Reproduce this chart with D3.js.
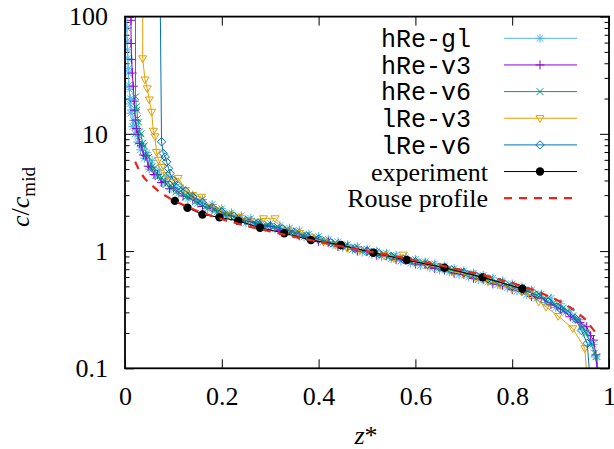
<!DOCTYPE html>
<html>
<head>
<meta charset="utf-8">
<script src="https://cdn.jsdelivr.net/npm/d3@7"></script>
<style>
body { margin: 0; background: #fff; }
svg { display: block; }
text { font-family: "Liberation Serif", "Times New Roman", serif; }
text.mono { font-family: "Liberation Mono", "Courier New", monospace; }
</style>
</head>
<body>
<svg id="chart" width="614" height="449"></svg>
<script>

// data: [z*, c/c_mid]
var hReGl = [
  [0.003,160],[0.004,80],[0.0045,62],[0.005,52],[0.006,44],[0.0065,36],[0.007,33],[0.008,26],
  [0.009,24],[0.010,18],[0.011,20],[0.012,15],[0.014,16],[0.016,11.5],[0.018,13],[0.021,10],
  [0.023,11.5],[0.026,8.5],[0.029,9.6],[0.032,7.3],[0.036,8.2],[0.040,6.2],[0.045,6.9],[0.050,5.0],
  [0.056,5.9],[0.063,4.4],[0.070,4.9],[0.078,3.8],[0.086,4.3],[0.095,3.4],[0.103,3.7],
  [0.11,3.1],[0.12,3.4],[0.13,2.8],[0.14,3.0],[0.15,2.55],[0.16,2.75],[0.17,2.3],[0.18,2.5],
  [0.19,2.15],[0.20,2.3],[0.21,1.97],[0.22,2.12],[0.23,1.86],[0.24,2.0],[0.25,1.74],[0.26,1.9],
  [0.27,1.68],[0.28,1.8],[0.29,1.6],[0.30,1.72],[0.31,1.55],[0.32,1.65],[0.33,1.46],[0.34,1.57],
  [0.35,1.40],[0.36,1.50],[0.37,1.32],[0.38,1.40],[0.39,1.26],[0.40,1.33],[0.41,1.2],[0.42,1.26],
  [0.43,1.14],[0.44,1.2],[0.45,1.08],[0.46,1.14],[0.47,1.03],[0.48,1.09],[0.49,0.98],[0.50,1.04],
  [0.51,0.94],[0.52,1.0],[0.53,0.9],[0.54,0.96],[0.55,0.86],[0.56,0.92],[0.57,0.82],[0.58,0.88],
  [0.59,0.79],[0.60,0.85],[0.61,0.75],[0.62,0.81],[0.63,0.72],[0.64,0.78],[0.65,0.69],[0.66,0.745],
  [0.67,0.66],[0.68,0.71],[0.69,0.63],[0.70,0.68],[0.71,0.60],[0.72,0.65],[0.73,0.57],[0.74,0.62],
  [0.75,0.545],[0.76,0.59],[0.77,0.515],[0.78,0.555],[0.79,0.485],[0.80,0.525],[0.81,0.455],[0.82,0.495],
  [0.83,0.425],[0.84,0.465],[0.85,0.395],[0.86,0.43],[0.87,0.365],[0.88,0.395],[0.89,0.33],[0.90,0.355],
  [0.91,0.30],[0.92,0.31],[0.93,0.26],[0.94,0.26],[0.945,0.22],[0.955,0.2],[0.962,0.165],[0.967,0.16],
  [0.972,0.125],[0.978,0.08]
];

var hReV3 = [
  [0.012,200],[0.0124,93],[0.0126,59],[0.0138,43],[0.015,33],[0.017,25.5],[0.019,19],[0.020,15.9],
  [0.022,13.1],[0.024,11.1],[0.027,9.9],[0.030,8.3],[0.034,7.9],[0.038,6.6],[0.043,6.5],[0.048,5.3],
  [0.054,5.2],[0.060,4.5],[0.067,4.5],[0.075,3.85],[0.083,3.9],[0.092,3.4],
  [0.10,3.45],[0.12,2.95],[0.14,2.78],[0.16,2.4],[0.18,2.32],[0.20,2.04],[0.22,2.0],[0.24,1.8],
  [0.26,1.79],[0.28,1.64],[0.30,1.63],[0.32,1.5],[0.34,1.49],[0.36,1.35],[0.38,1.31],[0.40,1.21],
  [0.42,1.19],[0.44,1.09],[0.46,1.08],[0.48,1.0],[0.50,0.99],[0.52,0.92],[0.54,0.91],[0.56,0.845],
  [0.58,0.835],[0.60,0.775],[0.62,0.765],[0.64,0.71],[0.66,0.69],[0.68,0.645],[0.70,0.63],[0.72,0.585],
  [0.74,0.57],[0.76,0.525],[0.78,0.51],[0.80,0.468],[0.82,0.455],[0.84,0.41],[0.86,0.395],[0.88,0.35],
  [0.90,0.32],[0.92,0.275],[0.94,0.245],[0.954,0.226],[0.962,0.19],[0.968,0.174],[0.973,0.13],[0.977,0.08]
];

var hReV6 = [
  [0.0215,300],[0.0218,20.7],[0.0235,17],[0.0245,15.9],[0.026,13.5],[0.028,12.6],[0.030,10.4],[0.033,10.0],
  [0.036,8.3],[0.040,7.9],[0.044,6.6],[0.049,6.3],[0.055,5.2],[0.061,5.1],[0.068,4.3],[0.076,4.25],
  [0.085,3.7],[0.095,3.6],
  [0.105,3.2],[0.115,3.25],[0.125,2.88],[0.135,2.95],[0.145,2.62],[0.155,2.66],[0.165,2.36],[0.175,2.42],
  [0.185,2.2],[0.195,2.25],[0.205,2.04],[0.215,2.09],[0.225,1.93],[0.235,1.97],[0.245,1.82],[0.255,1.86],
  [0.265,1.74],[0.275,1.77],[0.285,1.66],[0.295,1.69],[0.305,1.6],[0.315,1.62],[0.325,1.52],[0.335,1.54],
  [0.345,1.45],[0.355,1.46],[0.365,1.37],[0.375,1.37],[0.385,1.29],[0.395,1.3],[0.405,1.23],[0.415,1.24],
  [0.425,1.17],[0.435,1.18],[0.445,1.11],[0.455,1.12],[0.465,1.06],[0.475,1.07],[0.485,1.02],[0.495,1.03],
  [0.505,0.98],[0.515,0.99],[0.525,0.94],[0.535,0.95],[0.545,0.9],[0.555,0.91],[0.565,0.86],[0.575,0.875],
  [0.585,0.83],[0.595,0.84],[0.605,0.795],[0.615,0.805],[0.625,0.765],[0.635,0.77],[0.645,0.725],[0.655,0.735],
  [0.665,0.695],[0.675,0.70],[0.685,0.665],[0.695,0.67],[0.705,0.635],[0.715,0.64],[0.725,0.605],[0.735,0.61],
  [0.745,0.575],[0.755,0.58],[0.765,0.545],[0.775,0.55],[0.785,0.515],[0.795,0.52],[0.805,0.485],[0.815,0.49],
  [0.825,0.455],[0.835,0.46],[0.845,0.425],[0.855,0.43],[0.865,0.395],[0.875,0.4],[0.885,0.36],[0.895,0.355],
  [0.905,0.325],[0.915,0.31],[0.925,0.28],[0.935,0.265],[0.945,0.225],[0.952,0.2],[0.962,0.165],[0.97,0.135],
  [0.975,0.126],[0.978,0.085]
];

var lReV3 = [
  [0.037,300],[0.0365,44],[0.0413,29],[0.046,24.4],[0.050,19.6],[0.055,15.4],[0.0585,10.6],[0.062,9.5],
  [0.065,7.0],[0.069,6.0],[0.076,5.2],[0.086,4.44],[0.098,4.0],[0.110,4.2],[0.125,3.3],[0.14,3.0],
  [0.158,2.9],[0.176,2.38],[0.195,2.25],[0.215,2.05],[0.235,1.95],[0.255,1.82],[0.286,1.9],[0.31,1.9],
  [0.335,1.5],[0.36,1.42],[0.385,1.3],[0.41,1.2],[0.435,1.13],[0.46,1.06],[0.485,1.02],[0.51,0.98],
  [0.535,0.92],[0.555,0.87],[0.575,0.93],[0.6,0.8],[0.625,0.76],[0.65,0.72],[0.675,0.67],[0.7,0.635],
  [0.725,0.59],[0.75,0.555],[0.775,0.515],[0.8,0.48],[0.82,0.45],[0.837,0.42],[0.855,0.37],[0.87,0.335],
  [0.895,0.279],[0.925,0.219],[0.95,0.148],[0.955,0.08]
];

var lReV6 = [
  [0.072,300],[0.0755,8.55],[0.079,6.81],[0.083,6.35],[0.086,5.77],[0.090,5.07],[0.093,4.6],[0.10,4.02],
  [0.11,3.6],[0.125,3.25],[0.14,2.9],[0.16,2.6],[0.18,2.35],[0.20,2.15],[0.225,1.98],[0.25,1.82],
  [0.275,1.72],[0.30,1.63],[0.325,1.55],[0.35,1.45],[0.375,1.34],[0.40,1.26],[0.425,1.18],[0.45,1.11],
  [0.475,1.05],[0.50,1.0],[0.525,0.95],[0.55,0.9],[0.575,0.85],[0.60,0.81],[0.625,0.77],[0.65,0.73],
  [0.675,0.69],[0.70,0.655],[0.725,0.615],[0.75,0.58],[0.775,0.54],[0.80,0.5],[0.825,0.465],[0.85,0.42],
  [0.875,0.37],[0.90,0.32],[0.93,0.267],[0.943,0.21],[0.955,0.163],[0.961,0.08]
];

var experiment = [
  [0.103,2.68],[0.129,2.34],[0.160,2.05],[0.195,1.94],[0.234,1.81],[0.279,1.58],[0.329,1.42],
  [0.384,1.24],[0.446,1.125],[0.513,0.967],[0.582,0.838],[0.660,0.721],[0.739,0.597],[0.821,0.477]
];

var rouse = [
  [0.021,5.77],[0.03,4.81],[0.04,4.2],[0.05,3.78],[0.075,3.11],[0.1,2.70],[0.15,2.19],[0.2,1.87],
  [0.25,1.64],[0.3,1.47],[0.35,1.32],[0.4,1.20],[0.45,1.09],[0.5,1.0],[0.55,0.915],[0.6,0.833],
  [0.65,0.757],[0.7,0.682],[0.75,0.609],[0.8,0.535],[0.85,0.457],[0.9,0.370],[0.93,0.311],
  [0.95,0.264],[0.971,0.205]
];

var seriesNames = ["hRe-gl", "hRe-v3", "hRe-v6", "lRe-v3", "lRe-v6", "experiment", "Rouse profile"];
var seriesColors = ["#56b4e9", "#9400d3", "#009e73", "#e69f00", "#0072b2", "#000000", "#e8251c"];
var seriesMarks = ["asterisk", "plus", "cross", "triDown", "diamond", "dot", null];
var seriesData = [hReGl, hReV3, hReV6, lReV3, lReV6, experiment, rouse];

var xTicks = [0, 0.2, 0.4, 0.6, 0.8, 1];
var xTickLabels = ["0", "0.2", "0.4", "0.6", "0.8", "1"];
var yTicks = [0.1, 1, 10, 100];
var yTickLabels = ["0.1", "1", "10", "100"];
var yMinor = [0.2,0.3,0.4,0.5,0.6,0.7,0.8,0.9, 2,3,4,5,6,7,8,9, 20,30,40,50,60,70,80,90];

// plot frame
var plot = { left: 125, right: 609, top: 16.6, bottom: 368.3 };

var svg = d3.select("#chart");
var x = d3.scaleLinear().domain([0, 1]).range([plot.left, plot.right]);
var y = d3.scaleLog().domain([0.1, 100]).range([plot.bottom, plot.top]);

// marker shapes
var markPath = {
  asterisk: "M-4.5,0H4.5M0,-4.5V4.5M-3.3,-3.3L3.3,3.3M-3.3,3.3L3.3,-3.3",
  plus: "M-4.5,0H4.5M0,-4.5V4.5",
  cross: "M-3.4,-3.4L3.4,3.4M-3.4,3.4L3.4,-3.4",
  triDown: "M-4,-2.6L4,-2.6L0,4.2Z",
  diamond: "M0,-4.2L4.2,0L0,4.2L-4.2,0Z"
};

function drawMark(sel, kind, color) {
  if (kind === "dot") {
    sel.append("circle").attr("r", 4.2).attr("fill", color);
  } else {
    sel.append("path").attr("d", markPath[kind])
      .attr("fill", "none").attr("stroke", color).attr("stroke-width", 1);
  }
}

svg.append("defs").append("clipPath").attr("id", "clip")
  .append("rect")
  .attr("x", plot.left).attr("y", plot.top)
  .attr("width", plot.right - plot.left).attr("height", plot.bottom - plot.top);

// ticks (inward, mirrored)
function styleAxis(g) {
  g.select(".domain").remove();
  g.attr("font-family", null).attr("font-size", null);
  g.selectAll("line").attr("stroke", "#000").attr("stroke-width", 1);
  g.selectAll("text").attr("fill", "#000").style("font-size", "26px");
}

svg.append("g").attr("transform", "translate(" + plot.left + ",0)")
  .call(d3.axisLeft(y).tickValues(yTicks).tickFormat(function(d, i){ return yTickLabels[i]; })
    .tickSize(-9).tickPadding(17))
  .call(styleAxis);
svg.append("g").attr("transform", "translate(" + plot.left + ",0)")
  .call(d3.axisLeft(y).tickValues(yMinor).tickFormat("").tickSize(-4.5))
  .call(styleAxis);
svg.append("g").attr("transform", "translate(" + plot.right + ",0)")
  .call(d3.axisRight(y).tickValues(yTicks).tickFormat("").tickSize(-9))
  .call(styleAxis);
svg.append("g").attr("transform", "translate(" + plot.right + ",0)")
  .call(d3.axisRight(y).tickValues(yMinor).tickFormat("").tickSize(-4.5))
  .call(styleAxis);
svg.append("g").attr("transform", "translate(0," + plot.bottom + ")")
  .call(d3.axisBottom(x).tickValues(xTicks).tickFormat(function(d, i){ return xTickLabels[i]; })
    .tickSize(-9).tickPadding(18))
  .call(styleAxis);
svg.append("g").attr("transform", "translate(0," + plot.top + ")")
  .call(d3.axisTop(x).tickValues(xTicks).tickFormat("").tickSize(-9))
  .call(styleAxis);

// curves
var line = d3.line()
  .x(function(d){ return x(d[0]); })
  .y(function(d){ return y(d[1]); });

var dataLayer = svg.append("g").attr("clip-path", "url(#clip)");

seriesData.forEach(function(data, i) {
  var color = seriesColors[i];
  var path = dataLayer.append("path").datum(data)
    .attr("d", line)
    .attr("fill", "none")
    .attr("stroke", color)
    .attr("stroke-width", 1);
  if (seriesMarks[i] === null) {
    path.attr("stroke-width", 2.2).attr("stroke-dasharray", "8,7");
    return;
  }
  data.forEach(function(d) {
    var g = dataLayer.append("g")
      .attr("transform", "translate(" + x(d[0]) + "," + y(d[1]) + ")");
    drawMark(g, seriesMarks[i], color);
  });
});

// border
svg.append("rect")
  .attr("x", plot.left).attr("y", plot.top)
  .attr("width", plot.right - plot.left).attr("height", plot.bottom - plot.top)
  .attr("fill", "none").attr("stroke", "#000").attr("stroke-width", 1.8);

// legend
var legendTop = 38.3, legendStep = 26.65;
seriesNames.forEach(function(name, i) {
  var ly = legendTop + i * legendStep;
  var mono = i < 5;
  svg.append("text")
    .attr("class", mono ? "mono" : null)
    .attr("x", mono ? 471 : 488)
    .attr("y", ly)
    .attr("dy", "0.35em")
    .attr("text-anchor", "end")
    .style("font-size", mono ? "25px" : "26px")
    .text(name);
  var ln = svg.append("line")
    .attr("x1", 504).attr("x2", 577).attr("y1", ly).attr("y2", ly)
    .attr("stroke", seriesColors[i]).attr("stroke-width", 1);
  if (seriesMarks[i] === null) {
    ln.attr("stroke-width", 2.2).attr("stroke-dasharray", "8,7");
  } else {
    drawMark(svg.append("g").attr("transform", "translate(540," + ly + ")"), seriesMarks[i], seriesColors[i]);
  }
});

// axis titles
var yTitle = svg.append("text")
  .attr("transform", "translate(29,197) rotate(-90)")
  .attr("text-anchor", "middle")
  .style("font-size", "26px");
yTitle.append("tspan").style("font-style", "italic").text("c");
yTitle.append("tspan").text("/");
yTitle.append("tspan").style("font-style", "italic").text("c");
yTitle.append("tspan").style("font-size", "19px").attr("dy", 6).text("mid");

var xTitle = svg.append("text")
  .attr("x", 366).attr("y", 444)
  .attr("text-anchor", "middle")
  .style("font-size", "26px");
xTitle.append("tspan").style("font-style", "italic").text("z");
xTitle.append("tspan").text("*");

</script>
</body>
</html>
